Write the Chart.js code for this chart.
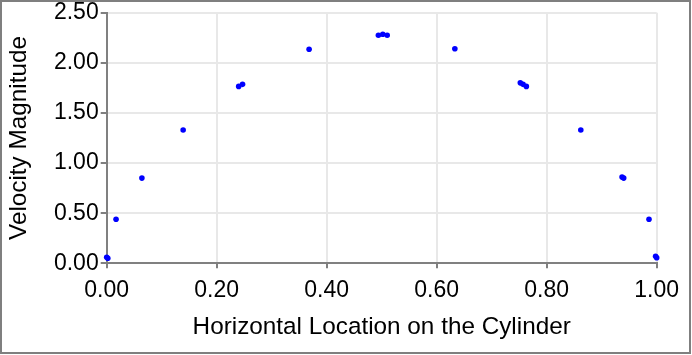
<!DOCTYPE html>
<html>
<head>
<meta charset="utf-8">
<script src="https://cdn.jsdelivr.net/npm/chart.js@4"></script>
<style>
html,body{margin:0;padding:0;background:#fff;}
#wrap{width:687px;height:350px;border:2px solid #7f7f7f;position:relative;background:#fff;}
canvas{display:block;}
</style>
</head>
<body>
<div id="wrap"><canvas id="c" width="687" height="350"></canvas></div>
<script>
// Horizontal location on the cylinder (0..1)
const xLocation = [0.000, 0.002, 0.017, 0.064, 0.139, 0.240, 0.247, 0.368, 0.494, 0.502, 0.510, 0.633, 0.752, 0.757, 0.763, 0.862, 0.937, 0.940, 0.986, 0.998, 1.000];
// Velocity magnitude
const velocity = [0.06, 0.05, 0.44, 0.85, 1.33, 1.765, 1.785, 2.135, 2.275, 2.285, 2.275, 2.14, 1.80, 1.785, 1.765, 1.33, 0.86, 0.85, 0.44, 0.07, 0.055];
const xTicks = [0, 0.2, 0.4, 0.6, 0.8, 1.0];
const yTicks = [0, 0.5, 1.0, 1.5, 2.0, 2.5];
const xTitle = 'Horizontal Location on the Cylinder';
const yTitle = 'Velocity Magnitude';

const points = xLocation.map((x, i) => ({x: x, y: velocity[i]}));
const FONT = "'Liberation Sans', Arial, sans-serif";

new Chart(document.getElementById('c'), {
  type: 'scatter',
  data: {
    datasets: [{
      data: points,
      backgroundColor: '#0000ff',
      borderColor: '#0000ff',
      pointRadius: 2.8,
      pointBorderWidth: 0,
      clip: false
    }]
  },
  options: {
    responsive: false,
    animation: false,
    devicePixelRatio: 1,
    layout: {padding: {top: 10.7, right: 32.3, left: 0, bottom: 0}},
    plugins: {legend: {display: false}, tooltip: {enabled: false}},
    scales: {
      x: {
        type: 'linear',
        min: 0, max: 1,
        afterBuildTicks: s => { s.ticks = xTicks.map(v => ({value: v})); },
        afterFit: s => { s.height = 88.7; s.paddingLeft = 0; s.paddingRight = 0; },
        ticks: {
          callback: v => Number(v).toFixed(2),
          font: {family: FONT, size: 23},
          color: '#000',
          padding: 9,
          maxRotation: 0,
          autoSkip: false
        },
        grid: {color: '#e8e8e8', lineWidth: 2, tickColor: '#808080', tickWidth: 2, tickLength: 5},
        border: {color: '#808080', width: 2},
        title: {display: true, text: xTitle, font: {family: FONT, size: 24.3}, color: '#000', padding: {top: 0, bottom: 10.3}}
      },
      y: {
        type: 'linear',
        min: 0, max: 2.5,
        afterBuildTicks: s => { s.ticks = yTicks.map(v => ({value: v})); },
        afterFit: s => { s.width = 104.7; s.paddingTop = 0; s.paddingBottom = 0; },
        ticks: {
          callback: v => Number(v).toFixed(2),
          font: {family: FONT, size: 23},
          color: '#000',
          padding: 2,
          autoSkip: false
        },
        grid: {color: '#e8e8e8', lineWidth: 2, tickColor: '#808080', tickWidth: 2, tickLength: 6},
        border: {color: '#808080', width: 2},
        title: {display: true, text: yTitle, font: {family: FONT, size: 24.3}, color: '#000', padding: {top: 2.4, bottom: 0}}
      }
    }
  }
});
</script>
</body>
</html>
